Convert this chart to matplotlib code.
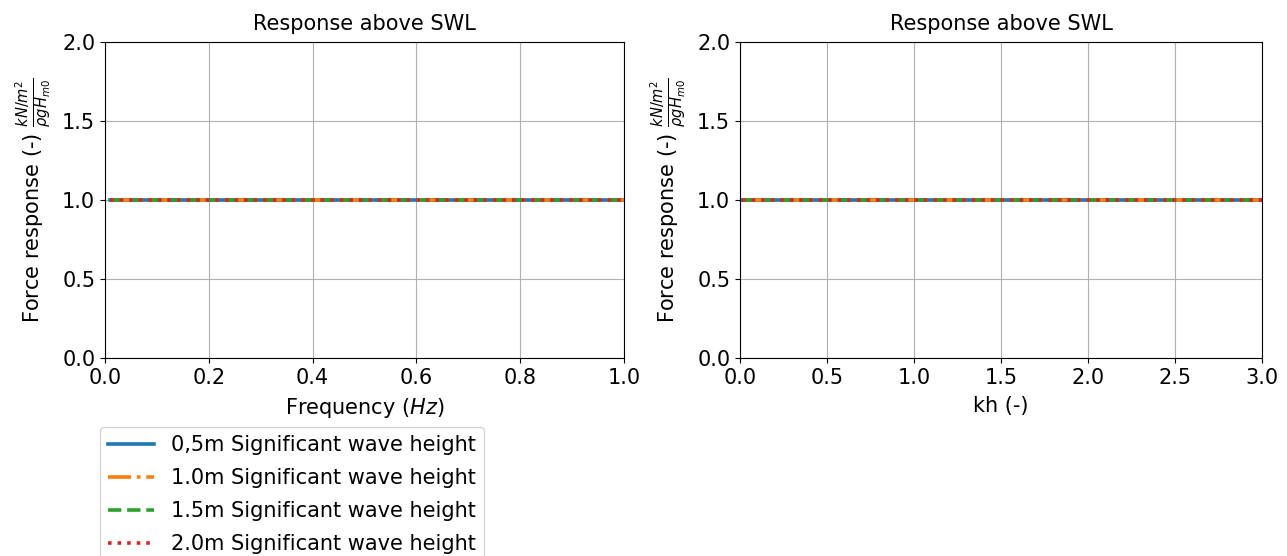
import matplotlib
matplotlib.use("Agg")
import matplotlib.pyplot as plt

# Data
frequency = [0.01, 0.1, 0.2, 0.3, 0.4, 0.5, 0.6, 0.7, 0.8, 0.9, 1.0]
kh = [0.01, 0.25, 0.5, 0.75, 1.0, 1.25, 1.5, 1.75, 2.0, 2.25, 2.5, 2.75, 3.0]
resp_freq_05 = [1.0, 1.0, 1.0, 1.0, 1.0, 1.0, 1.0, 1.0, 1.0, 1.0, 1.0]
resp_freq_10 = [1.0, 1.0, 1.0, 1.0, 1.0, 1.0, 1.0, 1.0, 1.0, 1.0, 1.0]
resp_freq_15 = [1.0, 1.0, 1.0, 1.0, 1.0, 1.0, 1.0, 1.0, 1.0, 1.0, 1.0]
resp_freq_20 = [1.0, 1.0, 1.0, 1.0, 1.0, 1.0, 1.0, 1.0, 1.0, 1.0, 1.0]
resp_kh_05 = [1.0, 1.0, 1.0, 1.0, 1.0, 1.0, 1.0, 1.0, 1.0, 1.0, 1.0, 1.0, 1.0]
resp_kh_10 = [1.0, 1.0, 1.0, 1.0, 1.0, 1.0, 1.0, 1.0, 1.0, 1.0, 1.0, 1.0, 1.0]
resp_kh_15 = [1.0, 1.0, 1.0, 1.0, 1.0, 1.0, 1.0, 1.0, 1.0, 1.0, 1.0, 1.0, 1.0]
resp_kh_20 = [1.0, 1.0, 1.0, 1.0, 1.0, 1.0, 1.0, 1.0, 1.0, 1.0, 1.0, 1.0, 1.0]
labels = ["0,5m Significant wave height", "1.0m Significant wave height",
          "1.5m Significant wave height", "2.0m Significant wave height"]

styles = ["-", "-.", "--", ":"]
colors = ["#1f77b4", "#ff7f0e", "#2ca02c", "#d62728"]

fig = plt.figure(figsize=(12.87, 5.56), dpi=100)
ax1 = fig.add_axes([0.0816, 0.356, 0.4033, 0.568])
ax2 = fig.add_axes([0.575, 0.356, 0.4056, 0.568])

ylab = r"Force response (-) $\frac{kN/m^2}{\rho g H_{m0}}$"

for ax, x, series, xl, xmax in [
    (ax1, frequency, [resp_freq_05, resp_freq_10, resp_freq_15, resp_freq_20], r"Frequency ($Hz$)", 1.0),
    (ax2, kh, [resp_kh_05, resp_kh_10, resp_kh_15, resp_kh_20], "kh (-)", 3.0),
]:
    for s, ls, c, lab in zip(series, styles, colors, labels):
        ax.plot(x, s, ls, color=c, lw=2.6, label=lab)
    ax.set_xlim(0, xmax)
    ax.set_ylim(0, 2.0)
    ax.set_yticks([0.0, 0.5, 1.0, 1.5, 2.0])
    ax.grid(True, color="#b0b0b0", lw=0.8)
    ax.tick_params(labelsize=15)
    ax.set_title("Response above SWL", fontsize=15, pad=9)
    ax.set_xlabel(xl, fontsize=15, labelpad=6)
    ax.set_ylabel(ylab, fontsize=15, labelpad=6)

ax2.set_xticks([0.0, 0.5, 1.0, 1.5, 2.0, 2.5, 3.0])

ax1.legend(loc="upper left", bbox_to_anchor=(0.0777, 0.232), bbox_transform=fig.transFigure,
           fontsize=15, handlelength=2.2, borderaxespad=0, labelspacing=0.62)

fig.savefig("out.png", dpi=100)
